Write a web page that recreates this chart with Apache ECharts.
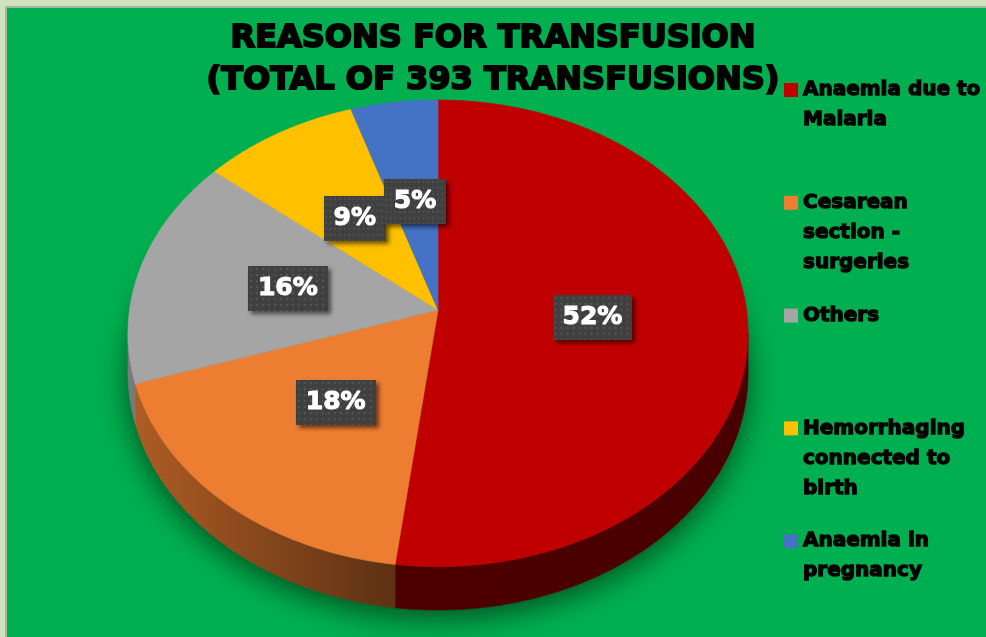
<!DOCTYPE html>
<html>
<head>
<meta charset="utf-8">
<script src="https://cdn.jsdelivr.net/npm/echarts@6/dist/echarts.min.js"></script>
<style>
  html, body { margin: 0; padding: 0; width: 986px; height: 637px; overflow: hidden; background: #cde2bd; }
  #frame { position: absolute; left: 5px; top: 6px; width: 1000px; height: 640px; box-sizing: border-box; background: #00b050; border-left: 2px solid #aab4a6; border-top: 2px solid #aab4a6; }
  #chart { position: absolute; left: 0; top: 0; width: 986px; height: 637px; }
</style>
</head>
<body>
<div id="frame"></div>
<div id="chart"></div>
<script>
const categories = ['Anaemia due to\nMalaria', 'Cesarean\nsection -\nsurgeries', 'Others', 'Hemorrhaging\nconnected to\nbirth', 'Anaemia in\npregnancy']
const values = [52, 18, 16, 9, 5]
const colors = ['#c00000', '#ed7d31', '#a5a5a5', '#ffc000', '#4472c4']
const titleLines = ['REASONS FOR TRANSFUSION', '(TOTAL OF 393 TRANSFUSIONS)']

// tilted disk seen in perspective: centre, radii, perspective factor, thickness
const CX = 438, CY = 310, RX = 308.5, RY = 231, K = 0.1, DEPTH = 39
const total = values.reduce((a, b) => a + b, 0)

function proj(theta, r, drop) {
  const u = r * Math.sin(theta), v = r * Math.cos(theta)
  const w = 1 + K * v
  return [CX + RX * u / w, CY - RY * v / w + drop / w]
}

function shade(hex, f) {
  const n = parseInt(hex.slice(1), 16)
  const r = Math.round(((n >> 16) & 255) * f), g = Math.round(((n >> 8) & 255) * f), b = Math.round((n & 255) * f)
  return `rgb(${r},${g},${b})`
}

// dotted dark fill for the data labels
const pattern = document.createElement('canvas')
pattern.width = 80; pattern.height = 45
const pctx = pattern.getContext('2d')
pctx.fillStyle = '#404040'
pctx.fillRect(0, 0, 80, 45)
pctx.fillStyle = '#555555'
for (let x = 2; x < 80; x += 6) for (let y = 2; y < 45; y += 6) pctx.fillRect(x, y, 2, 2)

function arc(a0, a1, drop) {
  const pts = []
  const n = Math.max(2, Math.ceil((a1 - a0) / 0.01))
  for (let s = 0; s <= n; s++) pts.push(proj(a0 + (a1 - a0) * s / n, 1, drop))
  return pts
}

function renderSlice(params, api) {
  const i = params.seriesIndex
  let start = 0
  for (let j = 0; j < i; j++) start += values[j]
  const a0 = start / total * 2 * Math.PI
  const a1 = (start + api.value(0)) / total * 2 * Math.PI
  const children = []
  // top face
  children.push({
    type: 'polygon', z2: 2,
    shape: { points: [[CX, CY]].concat(arc(a0, a1, 0)) },
    style: { fill: colors[i], stroke: colors[i], lineWidth: 0.6 }
  })
  // front side, only the part facing the viewer
  const lo = Math.PI / 2 + Math.asin(K), hi = 3 * Math.PI / 2 - Math.asin(K)
  const s = Math.max(a0, lo), e = Math.min(a1, hi)
  if (s < e) {
    const pts = arc(s, e, 0).concat(arc(s, e, DEPTH).reverse())
    const grad = new echarts.graphic.LinearGradient(CX - RX, 0, CX + RX, 0, [
      { offset: 0, color: shade(colors[i], 0.74) },
      { offset: 0.42, color: shade(colors[i], 0.40) },
      { offset: 1, color: shade(colors[i], 0.38) }
    ], true)
    children.push({ type: 'polygon', z2: 1, shape: { points: pts }, style: { fill: grad, stroke: grad, lineWidth: 0.6 } })
  }
  // data label
  const p = proj((a0 + a1) / 2, 0.5, 0)
  children.push({
    type: 'text', z2: 100,
    style: {
      text: api.value(0) + '%', x: p[0], y: p[1], align: 'center', verticalAlign: 'middle',
      fill: '#fff', font: 'bold 25px "DejaVu Sans"', stroke: '#fff', lineWidth: 1.1,
      padding: [10, 10, 10, 10], backgroundColor: { image: pattern },
      shadowBlur: 4, shadowOffsetX: 3, shadowOffsetY: 3, shadowColor: 'rgba(0,0,0,0.55)'
    }
  })
  return { type: 'group', children }
}

function renderShadow() {
  return {
    type: 'polygon', z2: 0,
    shape: { points: arc(0, 2 * Math.PI, DEPTH) },
    style: { fill: '#008c3c', shadowBlur: 30, shadowOffsetY: 8, shadowColor: 'rgba(0,45,15,0.75)' }
  }
}

const legendText = { fontFamily: 'DejaVu Sans', fontWeight: 'bold', fontSize: 20, lineHeight: 30, color: '#000', textBorderColor: '#000', textBorderWidth: 1.3 }

const option = {
  animation: false,
  title: {
    text: titleLines.join('\n'), left: 'center', top: 18, padding: 0,
    textStyle: { fontFamily: 'DejaVu Sans', fontWeight: 'bold', fontSize: 32, lineHeight: 42, color: '#000', textBorderColor: '#000', textBorderWidth: 2 }
  },
  legend: categories.map((name, i) => {
    const n = name.split('\n').length
    return {
      data: [name], orient: 'vertical', left: 784, top: 90 + i * 112.8 - (2 * n - 1) * 15, padding: 0,
      icon: 'rect', itemWidth: 14, itemHeight: 14, selectedMode: false,
      formatter: nm => '\n'.repeat(n - 1) + nm, textStyle: legendText
    }
  }),
  series: categories.map((name, i) => ({
    type: 'custom', name: name, coordinateSystem: 'none',
    itemStyle: { color: colors[i] },
    data: [[values[i]]],
    renderItem: renderSlice
  })).concat([{
    type: 'custom', name: 'shadow', coordinateSystem: 'none', silent: true,
    data: [[0]], renderItem: renderShadow
  }])
}

const chart = echarts.init(document.getElementById('chart'))
chart.setOption(option)
</script>
</body>
</html>
